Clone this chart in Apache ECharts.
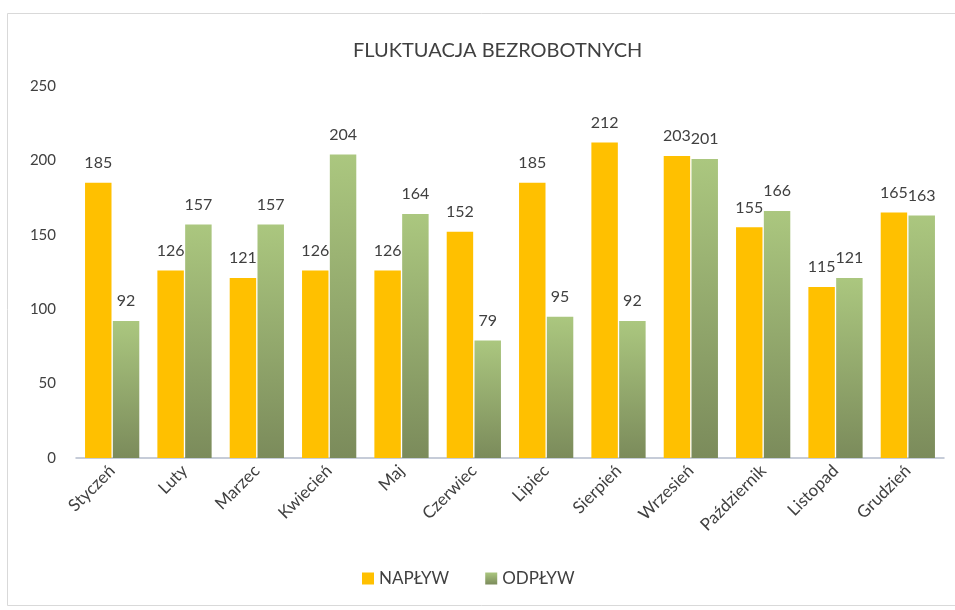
<!DOCTYPE html>
<html>
<head>
<meta charset="utf-8">
<script src="https://cdn.jsdelivr.net/npm/echarts@6/dist/echarts.min.js"></script>
<style>html,body{margin:0;padding:0;background:#fff;}#c{width:955px;height:610px;}</style>
</head>
<body>
<div id="c"></div>
<script>
const categories = ['Styczeń','Luty','Marzec','Kwiecień','Maj','Czerwiec','Lipiec','Sierpień','Wrzesień','Październik','Listopad','Grudzień'];
const naplyw = [185,126,121,126,126,152,185,212,203,155,115,165];
const odplyw = [92,157,157,204,164,79,95,92,201,166,121,163];
const seriesNames = ['NAPŁYW','ODPŁYW'];
const titleText = 'FLUKTUACJA BEZROBOTNYCH';

const FONT = 'Lato, "Liberation Sans", sans-serif';
const chart = echarts.init(document.getElementById('c'), null, {renderer:'canvas'});
const greenGrad = new echarts.graphic.LinearGradient(0,0,0,1,[
  {offset:0,color:'#abc77f'},
  {offset:1,color:'#7b8b5b'}
]);
chart.setOption({
  animation:false,
  backgroundColor:'#fff',
  graphic:[{type:'rect',shape:{x:7.5,y:13.5,width:960,height:592},style:{fill:'none',stroke:'#d9d9d9',lineWidth:1},silent:true}],
  title:{text:titleText,left:348,top:36,textStyle:{fontFamily:FONT,fontSize:20,fontWeight:'normal',color:'#404040'}},
  legend:{data:seriesNames,left:357,top:565,itemWidth:12,itemHeight:12,itemGap:36,icon:'rect',
    textStyle:{fontFamily:FONT,fontSize:17,color:'#404040'}},
  grid:{left:76,right:11,top:86,bottom:152,containLabel:false},
  xAxis:{type:'category',data:categories,
    axisLine:{show:true,lineStyle:{color:'#b4bccc',width:1.5}},
    axisTick:{show:false},
    axisLabel:{rotate:45,fontFamily:FONT,fontSize:17,color:'#404040',margin:10,interval:0}},
  yAxis:{type:'value',min:0,max:250,interval:50,
    axisLine:{show:false},axisTick:{show:false},splitLine:{show:false},
    axisLabel:{fontFamily:FONT,fontSize:15,color:'#404040',margin:20}},
  series:[
    {name:seriesNames[0],type:'bar',data:naplyw,barGap:'5%',barCategoryGap:'25%',
     itemStyle:{color:'#ffc000'},
     label:{show:true,position:'top',distance:12,fontFamily:FONT,fontSize:16,color:'#404040'}},
    {name:seriesNames[1],type:'bar',data:odplyw,
     itemStyle:{color:greenGrad},
     label:{show:true,position:'top',distance:12,fontFamily:FONT,fontSize:16,color:'#404040'}}
  ]
});
</script>
</body>
</html>
